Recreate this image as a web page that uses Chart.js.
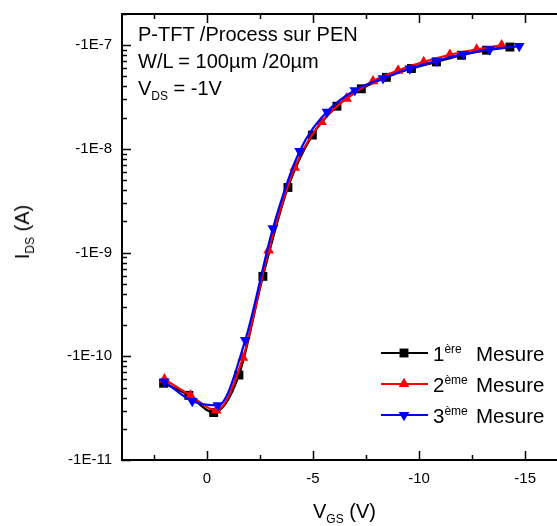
<!DOCTYPE html>
<html lang="fr">
<head>
  <meta charset="UTF-8" />
  <title>P-TFT - Process sur PEN</title>
  <script src="https://cdn.jsdelivr.net/npm/chart.js"></script>
  <style>
    body {
      margin: 0;
      background: #fff;
      font-family: 'Liberation Sans', Arial, sans-serif;
      overflow: hidden;
    }

    .wrap {
      position: relative;
      width: 557px;
      height: 526px;
    }

    .txt {
      position: absolute;
      color: #000;
      white-space: nowrap;
      font-size: 20px;
      line-height: 1;
    }

    .txt sub, .txt sup {
      font-size: 12px;
      line-height: 0;
    }

    .ytitle {
      left: 22px;
      top: 232px;
      transform: translate(-50%, -50%) rotate(-90deg);
    }

    .legend > div {
      position: absolute;
      left: 433px;
      font-size: 20.5px;
      white-space: nowrap;
    }

    .legend sup {
      font-size: 12px;
      line-height: 0;
    }

    .legend span {
      position: absolute;
      left: 43px;
      top: 0;
    }
  </style>
</head>
<body>
  <div class="wrap">
    <canvas id="chart"></canvas>

    <div class="txt" style="left:138px; top:24px;">P-TFT /Process sur PEN</div>
    <div class="txt" style="left:138px; top:51px;">W/L = 100µm /20µm</div>
    <div class="txt" style="left:138px; top:78px;">V<sub>DS</sub> = -1V</div>

    <div class="txt" style="left:313px; top:501px;">V<sub>GS</sub> (V)</div>
    <div class="txt ytitle">I<sub>DS</sub> (A)</div>

    <div class="legend">
      <div style="top:342px;">1<sup>ère</sup><span>Mesure</span></div>
      <div style="top:373px;">2<sup>ème</sup><span>Mesure</span></div>
      <div style="top:404px;">3<sup>ème</sup><span>Mesure</span></div>
    </div>
  </div>

  <script>
    // VGS (V) and |IDS| (A), one pair of arrays per measure
    const vgs1 = [2.04, 0.85, -0.32, -1.51, -2.64, -3.82, -4.97, -6.13, -7.28, -8.46, -9.64, -10.82, -12.0, -13.18, -14.28];
    const ids1 = [5.5e-11, 4.2e-11, 2.87e-11, 6.6e-11, 5.9e-10, 4.25e-9, 1.36e-8, 2.58e-8, 3.8e-8, 4.9e-8, 5.96e-8, 6.9e-8, 8.0e-8, 8.95e-8, 9.6e-8];

    const vgs2 = [2.0, 0.78, -0.44, -1.70, -2.91, -4.14, -5.40, -6.58, -7.83, -9.01, -10.22, -11.45, -12.71, -13.89];
    const ids2 = [6.0e-11, 4.2e-11, 3.0e-11, 9.7e-11, 1.05e-9, 6.6e-9, 1.82e-8, 3.06e-8, 4.5e-8, 5.7e-8, 6.9e-8, 8.1e-8, 9.1e-8, 1.0e-7];

    const vgs3 = [2.0, 0.69, -0.52, -1.81, -3.11, -4.37, -5.66, -6.97, -8.30, -9.56, -10.82, -12.08, -13.33, -14.72];
    const ids3 = [5.7e-11, 3.7e-11, 3.36e-11, 1.43e-10, 1.71e-9, 9.5e-9, 2.28e-8, 3.68e-8, 4.8e-8, 5.96e-8, 7.06e-8, 8.2e-8, 9.1e-8, 9.8e-8];

    const labels = ['1ère Mesure', '2ème Mesure', '3ème Mesure'];
    const xTicks = [0, -5, -10, -15];
    const yTicks = [1e-11, 1e-10, 1e-9, 1e-8, 1e-7];

    const FONT = "'Liberation Sans', Arial, sans-serif";

    function pts(xs, ys) {
      return xs.map((x, i) => ({ x: x, y: ys[i] }));
    }

    function marker(ctx, style, x, y, r, color) {
      ctx.fillStyle = color;
      ctx.beginPath();
      if (style === 'rect') {
        const s = r * Math.SQRT1_2;
        ctx.rect(x - s, y - s, 2 * s, 2 * s);
      } else {
        const d = style === 'down' ? -1 : 1;
        ctx.moveTo(x, y - d * r);
        ctx.lineTo(x - r * 0.866, y + d * r * 0.5);
        ctx.lineTo(x + r * 0.866, y + d * r * 0.5);
        ctx.closePath();
      }
      ctx.fill();
    }

    function noPad(s) {
      s.paddingLeft = 0;
      s.paddingRight = 0;
      s.paddingTop = 0;
      s.paddingBottom = 0;
    }

    // axis frame, inward ticks and legend samples
    const framePlugin = {
      id: 'frame',
      afterDraw(chart) {
        const ctx = chart.ctx;
        const a = chart.chartArea;
        const xs = chart.scales.x;
        const ys = chart.scales.y;
        ctx.save();
        ctx.strokeStyle = '#000';
        ctx.lineWidth = 2;
        ctx.beginPath();
        ctx.moveTo(a.left, a.top);
        ctx.lineTo(a.right, a.top);
        ctx.moveTo(a.left, a.top - 1);
        ctx.lineTo(a.left, a.bottom + 1);
        ctx.moveTo(a.left - 1, a.bottom);
        ctx.lineTo(a.right, a.bottom);
        ctx.stroke();

        ctx.lineWidth = 1.5;
        ctx.beginPath();
        for (let v = 2.5; v >= xs.min; v -= 2.5) {
          const px = Math.round(xs.getPixelForValue(v)) + 0.5;
          const len = v % 5 === 0 ? 9 : 5;
          ctx.moveTo(px, a.bottom);
          ctx.lineTo(px, a.bottom - len);
          ctx.moveTo(px, a.top);
          ctx.lineTo(px, a.top + len);
        }
        for (let e = -11; e <= -7; e++) {
          for (let k = 1; k <= 9; k++) {
            const v = k * Math.pow(10, e);
            if (v < ys.min || v > ys.max) continue;
            const py = Math.round(ys.getPixelForValue(v)) + 0.5;
            ctx.moveTo(a.left, py);
            ctx.lineTo(a.left + (k === 1 ? 9 : 5), py);
          }
        }
        ctx.stroke();

        const styles = [['#000000', 'rect', 6.3], ['#ff0000', 'up', 6.2], ['#0000ff', 'down', 6.2]];
        styles.forEach((s, i) => {
          const y = 353 + i * 31;
          ctx.strokeStyle = s[0];
          ctx.lineWidth = 2;
          ctx.beginPath();
          ctx.moveTo(381, y);
          ctx.lineTo(428, y);
          ctx.stroke();
          marker(ctx, s[1], 404, y, s[2], s[0]);
        });
        ctx.restore();
      }
    };

    const ctx = document.getElementById('chart').getContext('2d');
    new Chart(ctx, {
      type: 'line',
      data: {
        datasets: [
          {
            label: labels[0],
            data: pts(vgs1, ids1),
            borderColor: '#000000',
            backgroundColor: '#000000',
            pointStyle: 'rect',
            pointRadius: 6.3,
            order: 3
          },
          {
            label: labels[1],
            data: pts(vgs2, ids2),
            borderColor: '#ff0000',
            backgroundColor: '#ff0000',
            pointStyle: 'triangle',
            pointRadius: 6.2,
            order: 2
          },
          {
            label: labels[2],
            data: pts(vgs3, ids3),
            borderColor: '#0000ff',
            backgroundColor: '#0000ff',
            pointStyle: 'triangle',
            pointRotation: 180,
            pointRadius: 6.2,
            order: 1
          }
        ]
      },
      options: {
        responsive: true,
        maintainAspectRatio: false,
        animation: false,
        layout: { autoPadding: false, padding: { top: 14, right: 0, left: 0, bottom: 0 } },
        elements: {
          line: { borderWidth: 2.2, cubicInterpolationMode: 'monotone' },
          point: { borderWidth: 0, hoverRadius: 6 }
        },
        plugins: {
          legend: { display: false },
          tooltip: { enabled: false }
        },
        scales: {
          x: {
            type: 'linear',
            reverse: true,
            min: -16.5,
            max: 4,
            grid: { display: false, drawTicks: false },
            border: { display: false },
            afterBuildTicks: s => { s.ticks = xTicks.map(v => ({ value: v })); },
            afterFit: s => { s.height = 66; noPad(s); },
            ticks: {
              color: '#000',
              padding: 10,
              maxRotation: 0,
              font: { family: FONT, size: 15 },
              callback: v => String(v)
            }
          },
          y: {
            type: 'logarithmic',
            min: 1e-11,
            max: 2e-7,
            grid: { display: false, drawTicks: false },
            border: { display: false },
            afterBuildTicks: s => { s.ticks = yTicks.map(v => ({ value: v })); },
            afterFit: s => { s.width = 122; noPad(s); },
            ticks: {
              color: '#000',
              padding: 10,
              font: { family: FONT, size: 15 },
              callback: v => '-1E' + Math.round(Math.log10(v))
            }
          }
        }
      },
      plugins: [framePlugin]
    });
  </script>
</body>
</html>
